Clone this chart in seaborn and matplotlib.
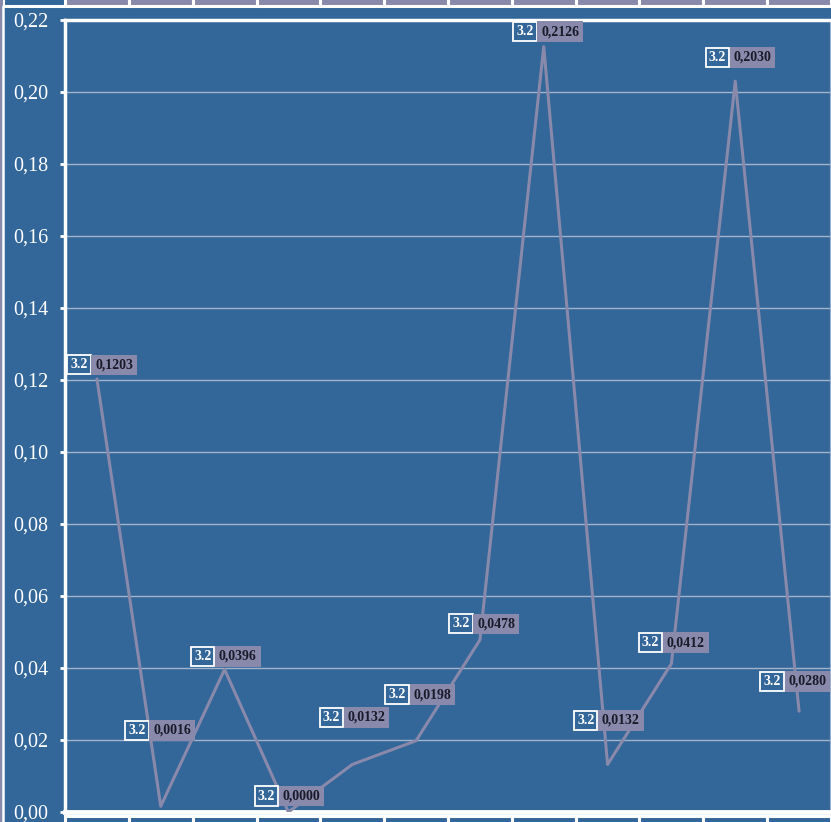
import matplotlib
matplotlib.use("Agg")
import matplotlib.pyplot as plt
import matplotlib.transforms as mtransforms
from matplotlib.patches import Rectangle
from matplotlib.lines import Line2D
from matplotlib.ticker import FuncFormatter, MultipleLocator
import seaborn as sns
import pandas as pd

# ---- data ----
categories = list(range(12))
values = [0.1203, 0.0016, 0.0396, 0.0000, 0.0132, 0.0198,
          0.0478, 0.2126, 0.0132, 0.0412, 0.2030, 0.0280]
tag_text = "3.2"
value_labels = ["0,1203", "0,0016", "0,0396", "0,0000", "0,0132", "0,0198",
                "0,0478", "0,2126", "0,0132", "0,0412", "0,2030", "0,0280"]
# label offsets (pixels) relative to the point: junction x, centre y (up positive)
label_dx = [-5, -11, -9, -9, -8, -6, -6, -6, -9, -8, -5, -14]
label_dy = [14, 76, 13, 16, 47, 46, 16, 15, 44, 21, 24, 30]

BLUE = "#336699"
GREY = "#8989ab"
GRID = "#a3b3c9"

sns.set_theme(style="white")
plt.rcParams["font.family"] = ["Liberation Serif", "DejaVu Serif"]

W, H = 831, 822
fig = plt.figure(figsize=(W / 100, H / 100), dpi=100, facecolor=BLUE)
ax = fig.add_axes([65 / W, (H - 812) / H, 766 / W, 792 / H])
ax.set_facecolor(BLUE)

df = pd.DataFrame({"cat": categories, "val": values})
sns.lineplot(data=df, x="cat", y="val", ax=ax, color=GREY, linewidth=2.2,
             zorder=3)

ax.set_xlim(-0.5, 11.5)
ax.set_ylim(0, 0.22)
ax.yaxis.set_major_locator(MultipleLocator(0.02))
ax.yaxis.set_major_formatter(FuncFormatter(lambda v, p: f"{v:.2f}".replace(".", ",")))
ax.set_xticks([])
ax.set_xlabel("")
ax.set_ylabel("")
ax.grid(axis="y", color=GRID, linewidth=1)
ax.tick_params(axis="y", colors="white", labelcolor="white", labelsize=14.5,
               length=3.8, width=2, left=True, pad=8, direction="out")

for s in ["left", "top", "bottom"]:
    ax.spines[s].set_color("white")
    ax.spines[s].set_visible(True)
ax.spines["left"].set_linewidth(2.5)
ax.spines["top"].set_linewidth(2.5)
ax.spines["bottom"].set_linewidth(3.5)
ax.spines["right"].set_color("#9fb0c8")
ax.spines["right"].set_linewidth(1.5)

# data labels
px = 0.72
for i, (v, lab) in enumerate(zip(values, value_labels)):
    dx = label_dx[i] * px
    dy = label_dy[i] * px
    ax.annotate(tag_text, xy=(i, v), xytext=(dx - 3.0, dy),
                textcoords="offset points", ha="right", va="center",
                fontsize=10, fontweight="bold", color="white", zorder=5,
                bbox=dict(boxstyle="square,pad=0.22", fc=BLUE, ec="white", lw=1.3))
    ax.annotate(lab, xy=(i, v), xytext=(dx + 2.4, dy),
                textcoords="offset points", ha="left", va="center",
                fontsize=10, fontweight="bold", color="#1a1a2a", zorder=5,
                bbox=dict(boxstyle="square,pad=0.28", fc=GREY, ec="none"))

# top category strip and bottom category boxes
tr = mtransforms.blended_transform_factory(ax.transData, fig.transFigure)
for i in categories:
    fig.patches.append(Rectangle((i - 0.5, 1 - 6 / H), 1, 10 / H, transform=tr,
                                 fc=GREY, ec="white", lw=2.2, zorder=1))
    fig.patches.append(Rectangle((i - 0.5, -10 / H), 1, 16 / H, transform=tr,
                                 fc=BLUE, ec="white", lw=2.2, zorder=1))
fig.patches.append(Rectangle((3 / W, 1 - 6 / H), 62 / W, 10 / H,
                             transform=fig.transFigure, fc=BLUE, ec="white",
                             lw=2.2, zorder=1))
fig.patches.append(Rectangle((0, 0), 2.5 / W, 1, transform=fig.transFigure,
                             fc=GREY, ec="none", zorder=1))
fig.lines.append(Line2D([3.5 / W, 3.5 / W], [0, 1 - 6 / H], transform=fig.transFigure,
                        color="white", lw=1.8, zorder=2))

fig.savefig("out.png", dpi=100, facecolor=BLUE)
